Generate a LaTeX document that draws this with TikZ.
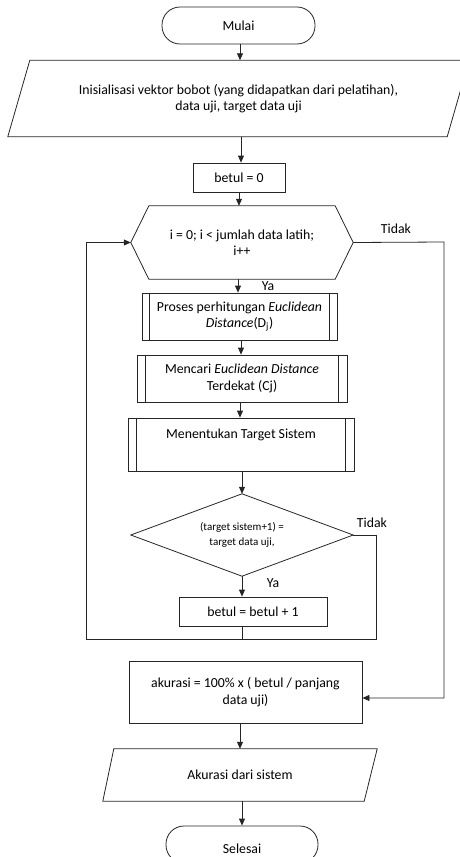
\documentclass[tikz,border=0pt]{standalone}
\usepackage{fontspec}
\setmainfont{Carlito}
\usetikzlibrary{arrows.meta,calc}
\begin{document}
\begin{tikzpicture}[x=1pt,y=-1pt,
  line/.style={draw=black!85,line width=0.8pt},
  arr/.style={line,-{Triangle[length=7pt,width=6pt]}},
  txt/.style={font=\fontsize{13.8}{16.5}\selectfont,align=center,inner sep=0pt},
  small/.style={font=\fontsize{11}{15}\selectfont,align=center,inner sep=0pt},
  box/.style={txt,line,rectangle},
  term/.style={box,rounded corners=18pt},
  shapeholder/.style={txt,rectangle,draw=none},
  lbl/.style={font=\fontsize{13.8}{16}\selectfont,inner sep=0pt}
]
\useasboundingbox (0,0) rectangle (460,857);
\clip (0,0) rectangle (460,857);

% nodes
\node[term,minimum width=153pt,minimum height=37pt] (mulai) at (238.5,25.5) {Mulai};
\node[shapeholder,minimum width=461pt,minimum height=76pt] (init) at (238.5,98.5)
  {Inisialisasi vektor bobot (yang didapatkan dari pelatihan),\\ data uji, target data uji};
\node[box,minimum width=92pt,minimum height=29pt] (b0) at (239,177.5) {betul = 0};
\node[shapeholder,minimum width=222pt,minimum height=73pt] (hex) at (242,242.5)
  {i = 0; i < jumlah data latih;\\ i++};
\node[box,minimum width=195pt,minimum height=47pt] (p1) at (239.5,316.5)
  {Proses perhitungan \textit{Euclidean}\\ \textit{Distance}(D\textsubscript{j})};
\node[box,minimum width=210pt,minimum height=47pt] (p2) at (242,378.5)
  {Mencari \textit{Euclidean Distance}\\ Terdekat (Cj)};
\node[box,minimum width=226pt,minimum height=53pt] (p3) at (241,444.5)
  {Menentukan Target Sistem\\ \strut};
\node[shapeholder,small,minimum width=222pt,minimum height=82pt] (dia) at (242,535)
  {(target sistem+1) =\\ target data uji,};
\node[box,minimum width=148pt,minimum height=29pt] (b1) at (253,611.5) {betul = betul + 1};
\node[box,minimum width=233pt,minimum height=62pt] (ak) at (245.5,692)
  {akurasi = 100\% x ( betul / panjang\\ data uji)};
\node[shapeholder,minimum width=274pt,minimum height=52pt] (out) at (240,775)
  {Akurasi dari sistem};
\node[term,minimum width=152pt,minimum height=37pt] (selesai) at (242,844.5) {};
\node[txt] (seltxt) at (242,848.5) {Selesai};

% shapes
\draw[line] ($(init.north west)+(22,0)$) -- (init.north east) -- ($(init.south east)+(-22,0)$) -- (init.south west) -- cycle;
\draw[line] (hex.west) -- ($(hex.north west)+(18,0)$) -- ($(hex.north east)+(-18,0)$) -- (hex.east)
  -- ($(hex.south east)+(-18,0)$) -- ($(hex.south west)+(18,0)$) -- cycle;
\foreach \n/\d in {p1/8,p2/9,p3/9}{
  \draw[line] ($(\n.north west)+(\d,0)$) -- ($(\n.south west)+(\d,0)$);
  \draw[line] ($(\n.north east)+(-\d,0)$) -- ($(\n.south east)+(-\d,0)$);
}
\draw[line] (dia.north) -- (dia.east) -- (dia.south) -- (dia.west) -- cycle;
\draw[line] ($(out.north west)+(11,0)$) -- (out.north east) -- ($(out.south east)+(-13,0)$) -- (out.south west) -- cycle;

% labels
\node[lbl] (t1) at (396,229) {Tidak};
\node[lbl] (y1) at (268,286) {Ya};
\node[lbl] (t2) at (372,523) {Tidak};
\node[lbl] (y2) at (273,583) {Ya};

% coordinates
\coordinate (loopL) at (86,639);
\coordinate (loopR) at (376,639);
\coordinate (loopM) at (242,639);
\coordinate (rightT) at (444,242);
\coordinate (rightB) at (444,698);

% connectors
\draw[arr] (mulai.south -| 240,0) -- (init.north -| 240,0);
\draw[arr] (init.south -| 241,0) -- (b0.north -| 241,0);
\draw[arr] (b0.south -| 239,0) -- (hex.north -| 239,0);
\draw[arr] (hex.south -| 238,0) -- (p1.north -| 238,0);
\draw[arr] (p1.south -| 241,0) -- (p2.north -| 241,0);
\draw[arr] (p2.south -| 240,0) -- (p3.north -| 240,0);
\draw[arr] (p3.south -| 242,0) -- (dia.north);
\draw[arr] (dia.south) -- (b1.north -| dia.south);
\draw[line] (b1.south -| loopM) -- (loopM);
\draw[line] (dia.east) -| (loopR) -- (loopL);
\draw[arr] (loopL) |- (hex.west);
\draw[arr] (hex.east) -- (rightT) -- (rightB) -- (ak.east |- rightB);
\draw[arr] (ak.south -| 240,0) -- (out.north -| 240,0);
\draw[arr] (out.south -| 242,0) -- (selesai.north -| 242,0);
\end{tikzpicture}
\end{document}
